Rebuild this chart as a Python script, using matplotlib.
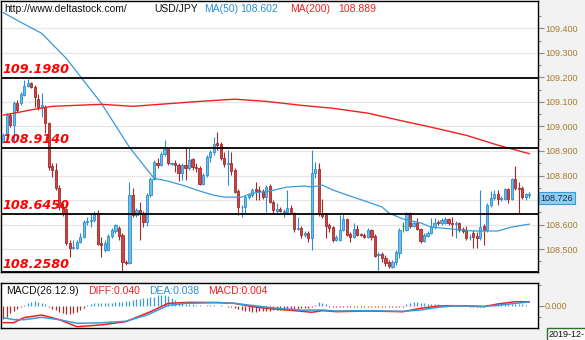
import matplotlib.pyplot as plt
import numpy as np

# USD/JPY candles (open, high, low, close)
opens = [108.936, 108.964, 109.046, 109.005, 109.094, 109.094, 109.127, 109.163, 109.176, 109.159,
         109.111, 109.078, 109.078, 109.013, 108.838, 108.822, 108.749, 108.672, 108.663, 108.525,
         108.505, 108.505, 108.529, 108.550, 108.611, 108.615, 108.619, 108.647, 108.525, 108.497,
         108.497, 108.554, 108.574, 108.586, 108.558, 108.448, 108.444, 108.720, 108.639, 108.659,
         108.647, 108.611, 108.720, 108.785, 108.850, 108.842, 108.887, 108.907, 108.848, 108.850,
         108.842, 108.810, 108.842, 108.830, 108.867, 108.834, 108.830, 108.765, 108.802, 108.875,
         108.895, 108.932, 108.928, 108.871, 108.846, 108.850, 108.822, 108.737, 108.670, 108.672,
         108.712, 108.720, 108.745, 108.741, 108.737, 108.712, 108.757, 108.692, 108.655, 108.663,
         108.651, 108.651, 108.667, 108.647, 108.582, 108.586, 108.558, 108.566, 108.546, 108.810,
         108.826, 108.643, 108.639, 108.598, 108.590, 108.537, 108.537, 108.578, 108.623, 108.562,
         108.550, 108.582, 108.562, 108.558, 108.550, 108.578, 108.554, 108.476, 108.480, 108.464,
         108.448, 108.428, 108.448, 108.485, 108.594, 108.578, 108.647, 108.594, 108.607, 108.582,
         108.533, 108.554, 108.566, 108.590, 108.611, 108.607, 108.607, 108.623, 108.607, 108.602,
         108.607, 108.582, 108.578, 108.548, 108.566, 108.554, 108.546, 108.594, 108.578, 108.680,
         108.708, 108.724, 108.704, 108.704, 108.745, 108.704, 108.785, 108.749, 108.749, 108.712,
         108.720]
highs = [108.972, 109.054, 109.054, 109.102, 109.107, 109.139, 109.188, 109.192, 109.180, 109.167,
         109.131, 109.135, 109.086, 109.017, 108.850, 108.850, 108.761, 108.688, 108.667, 108.537,
         108.537, 108.537, 108.566, 108.619, 108.631, 108.643, 108.655, 108.659, 108.550, 108.537,
         108.562, 108.586, 108.602, 108.594, 108.566, 108.456, 108.773, 108.749, 108.667, 108.692,
         108.655, 108.728, 108.793, 108.863, 108.871, 108.895, 108.944, 108.911, 108.854, 108.863,
         108.850, 108.850, 108.911, 108.911, 108.871, 108.850, 108.838, 108.810, 108.883, 108.902,
         108.956, 108.976, 108.936, 108.895, 108.902, 108.895, 108.830, 108.745, 108.680, 108.720,
         108.728, 108.749, 108.773, 108.757, 108.745, 108.761, 108.765, 108.700, 108.688, 108.672,
         108.663, 108.741, 108.680, 108.651, 108.631, 108.594, 108.574, 108.574, 108.902, 108.854,
         108.850, 108.704, 108.647, 108.607, 108.594, 108.558, 108.639, 108.643, 108.627, 108.570,
         108.607, 108.598, 108.566, 108.566, 108.586, 108.582, 108.562, 108.489, 108.489, 108.476,
         108.456, 108.456, 108.497, 108.586, 108.611, 108.651, 108.651, 108.615, 108.627, 108.586,
         108.566, 108.574, 108.627, 108.627, 108.619, 108.627, 108.631, 108.627, 108.631, 108.615,
         108.611, 108.590, 108.594, 108.562, 108.578, 108.570, 108.741, 108.602, 108.688, 108.737,
         108.741, 108.741, 108.716, 108.749, 108.749, 108.789, 108.838, 108.773, 108.757, 108.728,
         108.733]
lows = [108.932, 108.956, 108.997, 108.932, 109.058, 109.086, 109.123, 109.159, 109.155, 109.078,
        109.066, 109.037, 108.972, 108.822, 108.793, 108.741, 108.659, 108.635, 108.517, 108.468,
        108.501, 108.501, 108.525, 108.546, 108.598, 108.590, 108.611, 108.517, 108.468, 108.489,
        108.493, 108.546, 108.566, 108.537, 108.407, 108.436, 108.440, 108.631, 108.631, 108.537,
        108.590, 108.594, 108.712, 108.781, 108.830, 108.838, 108.878, 108.842, 108.842, 108.814,
        108.777, 108.781, 108.781, 108.822, 108.822, 108.814, 108.761, 108.761, 108.793, 108.854,
        108.883, 108.902, 108.863, 108.834, 108.761, 108.802, 108.728, 108.639, 108.631, 108.647,
        108.704, 108.712, 108.700, 108.700, 108.704, 108.651, 108.688, 108.647, 108.647, 108.651,
        108.631, 108.643, 108.647, 108.570, 108.578, 108.546, 108.550, 108.529, 108.497, 108.789,
        108.635, 108.627, 108.546, 108.570, 108.529, 108.533, 108.533, 108.574, 108.554, 108.529,
        108.546, 108.554, 108.554, 108.546, 108.546, 108.537, 108.468, 108.407, 108.448, 108.432,
        108.424, 108.424, 108.436, 108.464, 108.570, 108.574, 108.586, 108.590, 108.578, 108.525,
        108.529, 108.550, 108.562, 108.582, 108.598, 108.598, 108.602, 108.598, 108.554, 108.546,
        108.570, 108.566, 108.537, 108.537, 108.505, 108.505, 108.537, 108.517, 108.570, 108.672,
        108.700, 108.680, 108.696, 108.700, 108.688, 108.700, 108.741, 108.647, 108.704, 108.700,
        108.708]
closes = [108.964, 109.046, 109.005, 109.094, 109.066, 109.131, 109.163, 109.176, 109.159, 109.119,
          109.078, 109.086, 109.013, 108.834, 108.822, 108.749, 108.672, 108.647, 108.525, 108.505,
          108.509, 108.529, 108.550, 108.611, 108.615, 108.619, 108.647, 108.521, 108.517, 108.525,
          108.554, 108.578, 108.598, 108.554, 108.448, 108.444, 108.720, 108.639, 108.659, 108.647,
          108.611, 108.720, 108.785, 108.854, 108.842, 108.887, 108.907, 108.850, 108.850, 108.842,
          108.810, 108.842, 108.830, 108.863, 108.834, 108.830, 108.765, 108.802, 108.875, 108.895,
          108.928, 108.924, 108.871, 108.846, 108.850, 108.818, 108.733, 108.672, 108.672, 108.712,
          108.720, 108.741, 108.737, 108.737, 108.712, 108.753, 108.692, 108.659, 108.663, 108.655,
          108.655, 108.667, 108.651, 108.582, 108.586, 108.558, 108.566, 108.546, 108.810, 108.826,
          108.643, 108.635, 108.594, 108.586, 108.537, 108.550, 108.578, 108.623, 108.558, 108.550,
          108.582, 108.558, 108.558, 108.550, 108.578, 108.550, 108.472, 108.480, 108.464, 108.444,
          108.432, 108.448, 108.489, 108.578, 108.594, 108.647, 108.594, 108.607, 108.582, 108.533,
          108.558, 108.566, 108.590, 108.607, 108.607, 108.619, 108.623, 108.607, 108.602, 108.607,
          108.578, 108.574, 108.546, 108.550, 108.550, 108.546, 108.590, 108.578, 108.680, 108.708,
          108.724, 108.704, 108.708, 108.745, 108.704, 108.785, 108.749, 108.745, 108.712, 108.724,
          108.726]

# moving averages, read at sample candles
ma50_idx = [0, 4, 11, 18, 28, 36, 43, 47, 51, 56, 60, 63, 68, 71, 76, 81, 86, 88, 91, 94,
            99, 104, 108, 110, 114, 119, 122, 128, 134, 141, 145, 150]
ma50 = [109.464, 109.432, 109.379, 109.277, 109.094, 108.915, 108.789, 108.777, 108.761, 108.737,
        108.720, 108.712, 108.712, 108.728, 108.737, 108.753, 108.757, 108.753, 108.761, 108.741,
        108.716, 108.692, 108.672, 108.647, 108.623, 108.607, 108.590, 108.582, 108.574, 108.574,
        108.590, 108.602]
ma200_idx = [0, 9, 14, 28, 37, 56, 66, 75, 85, 94, 104, 113, 122, 132, 141, 150]
ma200 = [109.046, 109.070, 109.082, 109.090, 109.082, 109.102, 109.111, 109.102, 109.086, 109.074,
         109.054, 109.025, 108.997, 108.964, 108.924, 108.889]

# support / resistance levels
levels = [109.1980, 108.9140, 108.6450, 108.2580]

# price axis labels (108.700 sits under the last-price box)
price_ticks = [108.5, 108.6, 108.7, 108.8, 108.9, 109.0, 109.1, 109.2, 109.3, 109.4]
price_labels = ['108.500', '108.600', '', '108.800', '108.900', '109.000',
                '109.100', '109.200', '109.300', '109.400']

# MACD(26,12,9)
diff_idx = [0, 3, 6, 11, 16, 21, 28, 35, 42, 47, 53, 61, 66, 71, 76, 85, 88, 91, 95, 104,
            114, 119, 124, 128, 133, 137, 141, 146, 150]
diff = [-0.159, -0.159, -0.110, -0.086, -0.130, -0.197, -0.180, -0.149, -0.054, 0.025,
        0.035, 0.033, 0.025, -0.006, -0.025, -0.050, -0.060, -0.044, -0.054, -0.048,
        -0.054, -0.022, 0.000, 0.003, 0.000, -0.006, 0.019, 0.041, 0.040]
dea_idx = [0, 3, 6, 11, 16, 21, 28, 35, 41, 47, 52, 61, 66, 71, 76, 85, 91, 95, 104, 114,
           119, 124, 128, 133, 137, 141, 146, 150]
dea = [-0.111, -0.130, -0.130, -0.108, -0.130, -0.165, -0.160, -0.145, -0.086, 0.005,
       0.025, 0.032, 0.025, 0.005, -0.015, -0.040, -0.038, -0.048, -0.044, -0.051,
       -0.038, -0.013, 0.000, 0.000, -0.003, 0.006, 0.025, 0.038]
macd_hist = [-0.12, -0.10, -0.07, -0.05, -0.03, -0.01, 0.01, 0.03, 0.04, 0.045, 0.04, 0.03, 0.015,
             -0.01, -0.025, -0.04, -0.06, -0.07, -0.08, -0.075, -0.065, -0.055, -0.04, -0.02,
             0.01, 0.02, 0.025, 0.025, 0.025, 0.025, 0.03, 0.03, 0.035, 0.04, 0.04, 0.045, 0.05,
             0.055, 0.065, 0.07, 0.075, 0.08, 0.085, 0.09, 0.10, 0.105, 0.105, 0.095, 0.075, 0.06,
             0.03, 0.025, 0.02, 0.015, 0.015, 0.01, 0.005, 0.003, 0.01, 0.008, 0.005, 0.003,
             0.005, 0.003, -0.005, -0.01,
             -0.02, -0.03, -0.035, -0.045, -0.05, -0.055, -0.055, -0.05, -0.05, -0.045, -0.045,
             -0.04, -0.04, -0.035, -0.035, -0.03, -0.03, -0.025, -0.025, -0.02,
             -0.02, -0.015, -0.01,
             0.01, 0.035, 0.03, 0.02,
             -0.01, -0.012, -0.008, -0.01, -0.013, -0.01, -0.008, -0.012, -0.01, -0.01, -0.013,
             -0.01, -0.008, -0.01, -0.012, -0.01, -0.01, -0.012, -0.013, -0.01, -0.008, -0.005,
             0.02, 0.03, 0.04, 0.04, 0.025, 0.025, 0.02, 0.02, 0.02, 0.015, 0.013, 0.01, 0.006,
             0.005, 0.004, 0.003, 0.002,
             0.003, -0.005, -0.013, -0.013, -0.012, -0.005, 0.003, 0.005,
             0.02, 0.025, 0.025, 0.025, 0.025, 0.022, 0.02, 0.018, 0.015, 0.01, 0.004]

W, H = 585, 340
fig = plt.figure(figsize=(W / 100, H / 100), dpi=100, facecolor='#f2f2f2')
ax = fig.add_axes([0.5 / W, 68 / H, 537.5 / W, 271.5 / H])
mx = fig.add_axes([0.5 / W, 12 / H, 537.5 / W, 45 / H])

tick_col = '#a67c2e'
o = np.array(opens)
c = np.array(closes)
x = np.arange(len(c))
up_edge, up_fill = '#2a8ed3', '#6bbdec'
dn_edge, dn_fill = '#a82828', '#c84646'
edges = np.where(c > o, up_edge, np.where(c < o, dn_edge, '#2a8a2a'))
fills = np.where(c > o, up_fill, np.where(c < o, dn_fill, '#2a8a2a'))

ax.vlines(x, lows, highs, colors=edges, lw=0.8, zorder=3)
body = np.maximum(np.abs(c - o), 0.0015)
ax.bar(x, body, bottom=np.minimum(o, c), width=0.62, color=fills,
       edgecolor=edges, linewidth=0.6, zorder=4)

ax.plot(ma50_idx, ma50, color='#3a9ad8', lw=0.9, zorder=5)
ax.plot(ma200_idx, ma200, color='#f02020', lw=1.0, zorder=5)

ymin, ymax = 108.407, 109.513
for lv in levels:
    y = max(lv, ymin)
    ax.axhline(y, color='black', lw=1.3, zorder=6)
    ax.annotate(f'{lv:.4f}', xy=(0.004, y), xycoords=('axes fraction', 'data'),
                xytext=(0, 3.2), textcoords='offset points', va='baseline', ha='left',
                fontsize=9.2, color='#ff0000', fontweight='bold', fontstyle='italic',
                family='DejaVu Sans', zorder=7, annotation_clip=False)

ax.set_xlim(-0.77, 152.5)
ax.set_ylim(ymin, ymax)
ax.set_xticks([])
ax.yaxis.tick_right()
ax.set_yticks(price_ticks)
ax.set_yticklabels(price_labels, family='Liberation Sans')
ax.set_yticks(np.round(np.arange(108.45, 109.5, 0.1), 2), minor=True)
ax.tick_params(axis='y', which='major', length=4, width=0.8, color='#8a8a8a',
               labelsize=6.5, labelcolor=tick_col, pad=1)
ax.tick_params(axis='y', which='minor', length=2.5, width=0.8, color='#8a8a8a')
ax.grid(axis='y', which='major', color='#e6e6e6', lw=0.9)
ax.set_axisbelow(True)
for s in ax.spines.values():
    s.set_color('black')
    s.set_linewidth(1.0)

# last price marker
ax.annotate(f'{closes[-1]:.3f}', xy=(1, closes[-1]), xycoords=('axes fraction', 'data'),
            xytext=(2, 0), textcoords='offset points', va='top', ha='left',
            fontsize=6.5, family='Liberation Sans', color='#1b2a44',
            bbox=dict(boxstyle='square,pad=0.18', fc='#8dcdf2', ec='#3a9ad8', lw=0.8),
            annotation_clip=False, zorder=8)

# header line
hy = 1 - 11.5 / H
hdr = dict(fontsize=7.5, family='Liberation Sans', va='baseline')
fig.text(4 / W, hy, 'http://www.deltastock.com/', color='#111111', **hdr)
fig.text(154 / W, hy, 'USD/JPY', color='#111111', **hdr)
fig.text(204 / W, hy, 'MA(50)', color='#2a8ed3', **hdr)
fig.text(240 / W, hy, f'{ma50[-1]:.3f}', color='#2a8ed3', **hdr)
fig.text(290 / W, hy, 'MA(200)', color='#f02020', **hdr)
fig.text(338 / W, hy, f'{ma200[-1]:.3f}', color='#f02020', **hdr)

# MACD panel
h = np.array(macd_hist)
hcol = np.where(h >= 0, '#3a9ad8', '#b02a2a')
mx.vlines(x, 0, h, colors=hcol, lw=0.9, zorder=3)
mx.plot(diff_idx, diff, color='#f02020', lw=1.1, zorder=4)
mx.plot(dea_idx, dea, color='#3a9ad8', lw=1.1, zorder=5)
mx.set_xlim(-0.77, 152.5)
mx.set_ylim(-0.2095, 0.219)
mx.set_xticks([])
mx.yaxis.tick_right()
mx.set_yticks([0.0])
mx.set_yticklabels(['0.000'], family='Liberation Sans')
mx.set_yticks([-0.1, 0.2], minor=True)
mx.tick_params(axis='y', which='major', length=4, width=0.8, color='#8a8a8a',
               labelsize=6.5, labelcolor=tick_col, pad=1)
mx.tick_params(axis='y', which='minor', length=2.5, width=0.8, color='#8a8a8a')
for s in mx.spines.values():
    s.set_color('black')
    s.set_linewidth(1.0)

my = 1 - 293.5 / H
fig.text(6 / W, my, 'MACD(26.12.9)', color='#111111', **hdr)
fig.text(88 / W, my, f'DIFF:{diff[-1]:.3f}', color='#f02020', **hdr)
fig.text(149 / W, my, f'DEA:{dea[-1]:.3f}', color='#2a8ed3', **hdr)
fig.text(208 / W, my, f'MACD:{macd_hist[-1]:.3f}', color='#f02020', **hdr)

fig.text(549 / W, 1 - 337 / H, '2019-12-', fontsize=6.5, family='Liberation Sans',
         color='#111111', va='baseline',
         bbox=dict(boxstyle='square,pad=0.2', fc='#fafafa', ec='#2a6e2a', lw=1.0))

fig.savefig('out.png', dpi=100, facecolor=fig.get_facecolor())
